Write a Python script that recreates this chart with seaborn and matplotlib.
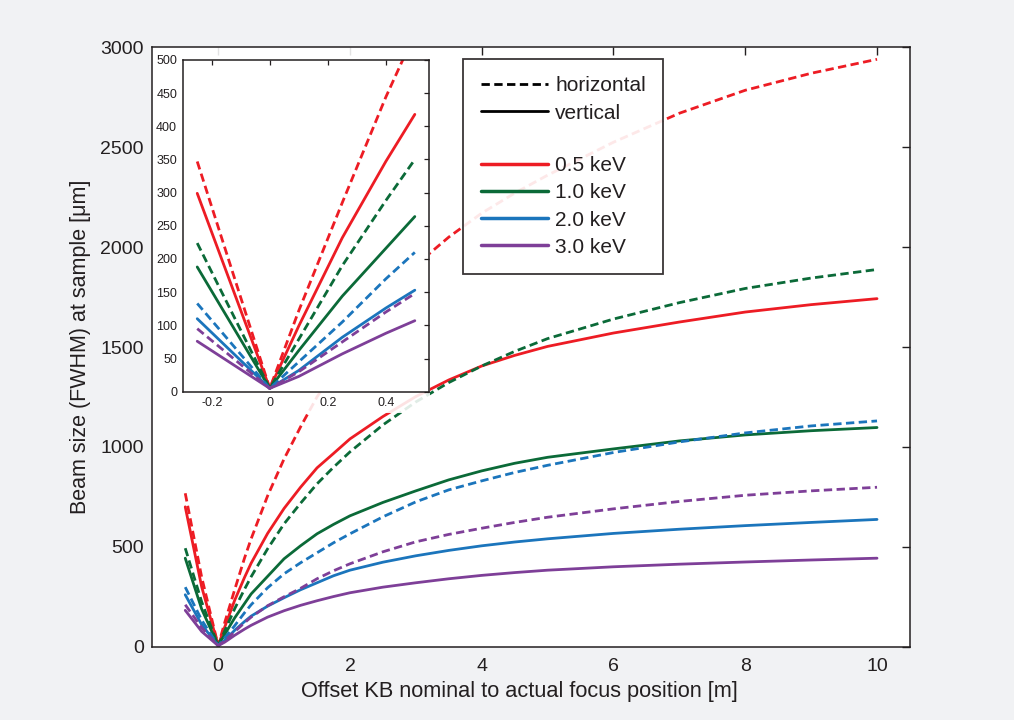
import numpy as np
import pandas as pd
import matplotlib
matplotlib.use("Agg")
import matplotlib.pyplot as plt
import seaborn as sns
from matplotlib.lines import Line2D
from matplotlib.patches import Rectangle

# ---------------- data ----------------
offset_m = [-0.5, -0.25, 0, 0.1, 0.25, 0.4, 0.5, 0.75, 1, 1.25, 1.5, 1.75, 2, 2.5, 3, 3.5,
            4, 4.5, 5, 6, 7, 8, 9, 10]
energies = ["0.5 keV", "1.0 keV", "2.0 keV", "3.0 keV"]
orientations = ["horizontal", "vertical"]

h_05 = [768, 347, 5, 122, 285, 444, 540, 755, 940, 1100, 1250, 1373, 1505, 1720, 1910, 2050,
        2170, 2270, 2360, 2525, 2670, 2785, 2870, 2940]
v_05 = [700, 299, 5, 99, 232, 347, 418, 567, 692, 798, 895, 967, 1040, 1152, 1252, 1335,
        1405, 1458, 1503, 1570, 1625, 1675, 1712, 1742]
h_10 = [493, 224, 5, 79, 190, 288, 350, 490, 615, 718, 815, 898, 975, 1110, 1225, 1322,
        1405, 1478, 1542, 1640, 1722, 1793, 1845, 1888]
v_10 = [443, 188, 5, 62, 144, 216, 264, 352, 440, 505, 565, 612, 655, 722, 780, 835,
        880, 918, 948, 990, 1030, 1060, 1081, 1097]
h_20 = [298, 133, 5, 45, 105, 170, 210, 295, 365, 420, 470, 520, 565, 650, 725, 785,
        830, 872, 908, 972, 1025, 1070, 1105, 1130]
v_20 = [260, 110, 5, 32, 82, 126, 153, 203, 245, 285, 320, 355, 383, 423, 455, 482,
        505, 524, 540, 567, 588, 606, 622, 637]
h_30 = [210, 95, 5, 30, 75, 120, 148, 205, 250, 292, 340, 380, 415, 475, 525, 562,
        593, 622, 648, 690, 727, 758, 780, 798]
v_30 = [182, 76, 5, 23, 57, 88, 107, 148, 180, 207, 230, 251, 270, 298, 320, 340,
        357, 371, 383, 400, 413, 424, 434, 443]

main_xticks = [0, 2, 4, 6, 8, 10]
main_yticks = [0, 500, 1000, 1500, 2000, 2500, 3000]
inset_xticks = [-0.2, 0, 0.2, 0.4]
inset_xticklabels = ["-0.2", "0", "0.2", "0.4"]
inset_yticks = [0, 50, 100, 150, 200, 250, 300, 350, 400, 450, 500]

series = {
    ("0.5 keV", "horizontal"): h_05, ("0.5 keV", "vertical"): v_05,
    ("1.0 keV", "horizontal"): h_10, ("1.0 keV", "vertical"): v_10,
    ("2.0 keV", "horizontal"): h_20, ("2.0 keV", "vertical"): v_20,
    ("3.0 keV", "horizontal"): h_30, ("3.0 keV", "vertical"): v_30,
}
rows = []
for (en, ori), vals in series.items():
    for xv, yv in zip(offset_m, vals):
        rows.append({"offset": xv, "size": yv, "energy": en, "orientation": ori})
df = pd.DataFrame(rows)

palette = {"0.5 keV": "#ed1c24", "1.0 keV": "#0b6a38", "2.0 keV": "#1b75bc", "3.0 keV": "#7e3f98"}
dashes = {"horizontal": (3, 1.6), "vertical": ""}
ink = "#231f20"

# ---------------- style ----------------
sns.set_style("white")
plt.rcParams["font.family"] = ["Liberation Sans", "DejaVu Sans"]
plt.rcParams["text.color"] = ink
plt.rcParams["axes.labelcolor"] = ink
plt.rcParams["xtick.color"] = ink
plt.rcParams["ytick.color"] = ink

fig = plt.figure(figsize=(10.14, 7.2), dpi=100, facecolor="#f1f2f4")
ax = fig.add_axes([0.1502, 0.1018, 0.7472, 0.8325])
ax.set_facecolor("white")

sns.lineplot(data=df, x="offset", y="size", hue="energy", style="orientation",
             palette=palette, dashes=dashes, hue_order=energies, style_order=orientations,
             estimator=None, sort=False, linewidth=2.0, legend=False, ax=ax)

ax.set_xlim(-1, 10.5)
ax.set_ylim(0, 3000)
ax.set_xticks(main_xticks)
ax.set_yticks(main_yticks)
ax.tick_params(direction="in", top=True, right=True, length=5.5, width=1.0,
               labelsize=14, pad=6)
ax.tick_params(axis="x", pad=8)
for s in ax.spines.values():
    s.set_visible(True)
    s.set_color(ink)
    s.set_linewidth(1.1)
    s.set_zorder(6)
ax.set_xlabel("Offset KB nominal to actual focus position [m]", fontsize=15.7)
ax.xaxis.set_label_coords(0.484, -0.058)
ax.set_ylabel("Beam size (FWHM) at sample [\u03bcm]", fontsize=15.5, labelpad=7)

# semi-transparent white panel behind the inset
ax.add_patch(Rectangle((0, 0.39), 0.3665, 0.61, transform=ax.transAxes,
                       facecolor="white", alpha=0.88, edgecolor="none", zorder=5))

# legend
handles = [
    Line2D([], [], color="black", lw=2, dashes=(3, 1.6)),
    Line2D([], [], color="black", lw=2),
    Line2D([], [], color="none", lw=0),
] + [Line2D([], [], color=palette[e], lw=2.5) for e in energies]
labels = ["horizontal", "vertical", " "] + energies
leg = ax.legend(handles, labels, loc="upper left", bbox_to_anchor=(0.41, 0.981),
                fontsize=15, frameon=True, fancybox=False, framealpha=0.9,
                edgecolor=ink, handlelength=3.25, handletextpad=0.32,
                labelspacing=0.39, borderpad=0.85, borderaxespad=0)
leg.get_frame().set_linewidth(1.3)
leg.get_texts()[2].set_fontsize(9)
leg.set_zorder(7)

# ---------------- inset ----------------
axi = fig.add_axes([0.1802, 0.456, 0.2432, 0.4607])
axi.set_facecolor("white")
dfi = df[(df["offset"] >= -0.25) & (df["offset"] <= 0.5)]
sns.lineplot(data=dfi, x="offset", y="size", hue="energy", style="orientation",
             palette=palette, dashes=dashes, hue_order=energies, style_order=orientations,
             estimator=None, sort=False, linewidth=2.0, legend=False, ax=axi)
axi.set_xlim(-0.3, 0.55)
axi.set_ylim(0, 500)
axi.set_xticks(inset_xticks)
axi.set_xticklabels(inset_xticklabels)
axi.set_yticks(inset_yticks)
axi.tick_params(direction="in", top=True, right=True, length=3.5, width=0.9,
                labelsize=9, pad=4)
for s in axi.spines.values():
    s.set_visible(True)
    s.set_color(ink)
    s.set_linewidth(1.1)
axi.set_xlabel("")
axi.set_ylabel("")

fig.savefig("out.png", dpi=100, facecolor=fig.get_facecolor())
